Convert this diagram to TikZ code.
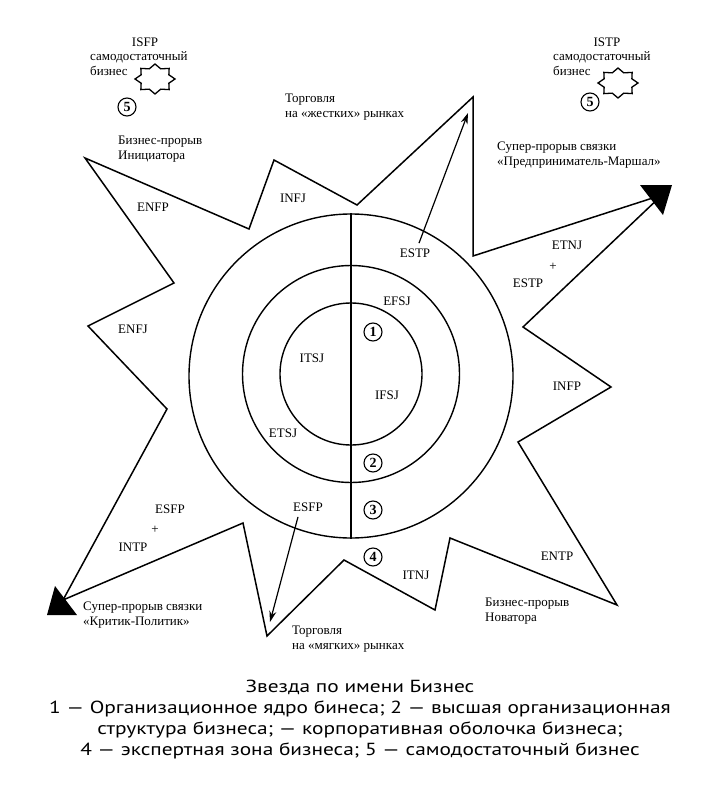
\documentclass[tikz,border=0pt]{standalone}
\usepackage{fontspec}
\setmainfont{Liberation Serif}
\newfontfamily\capfont[FakeStretch=1.22]{PT Sans}
\usetikzlibrary{positioning,arrows.meta}

\begin{document}
\begin{tikzpicture}[x=1pt, y=-1pt, font=\fontsize{13}{15}\selectfont, % pixel grid, y downwards
    outline/.style={line width=1.5pt, line join=miter},
    ring/.style={draw, circle, line width=1.4pt, inner sep=0pt},
    num/.style={draw, circle, line width=1.1pt, minimum size=18pt, inner sep=0pt, font=\fontsize{14}{14}\selectfont\bfseries},
    note/.style={align=left, anchor=north west, inner sep=0pt},
    pointer/.style={-{Stealth[length=11pt, width=7pt]}, line width=1.2pt}]
    \useasboundingbox (0,0) rectangle (720,800);
    % Draw rings
    \node[ring, minimum size=324pt] (shell) at (351,376) {};
    \node[ring, minimum size=217pt] (top) at (351,374) {};
    \node[ring, minimum size=142pt] (core) at (351,374) {};
    \draw[line width=1.5pt] (shell.north) -- (shell.south); % divider
    % Draw star outline
    \draw[outline] (85,158) -- (249,229) -- (274,160) -- (357,205) -- (473,97) -- (473,256)
        -- (662,195) -- (523,327) -- (611,387) -- (518,442) -- (617,605) -- (450,538)
        -- (435,610) -- (344,560) -- (267,636) -- (243,523) -- (63,600) -- (167,409)
        -- (88,326) -- (174,283) -- cycle;
    % Draw super-breakthrough heads
    \fill (640,185) -- (672,185) -- (663,215) -- cycle;
    \fill (47,615) -- (55,586) -- (77,615) -- cycle;
    % Draw small stars
    \foreach \cx/\cy in {155/79, 618/83}
        \draw[line width=1.3pt, shift={(\cx,\cy)}] (0:20 and 15)
            \foreach \k in {0,...,7} { -- ({\k*45+22.5}:15 and 11) -- ({\k*45+45}:20 and 15) } -- cycle;

    % Labels in the rings
    \node (itsj) at (312,358) {ITSJ};
    \node (ifsj) at (387,395) {IFSJ};
    \node (efsj) at (397,301) {EFSJ};
    \node (etsj) at (283,433) {ETSJ};
    \node (estpin) at (415,253) {ESTP};
    \node (esfpin) at (308,507) {ESFP};
    \node[num] (n1) at (373,332) {1};
    \node[num] (n2) at (373,463) {2};
    \node[num] (n3) at (373,510) {3};
    \node[num] (n4) at (373,557) {4};
    % Labels in the rays
    \node (enfp) at (153,207) {ENFP};
    \node (infj) at (293,198) {INFJ};
    \node (enfj) at (133,329) {ENFJ};
    \node (infp) at (567,386) {INFP};
    \node (entp) at (557,556) {ENTP};
    \node (itnj) at (416,575) {ITNJ};
    \node (etnj) at (567,245) {ETNJ};
    \node (plusr) at (553,267) {+};
    \node (estp) at (528,283) {ESTP};
    \node (esfp) at (170,509) {ESFP};
    \node (plusl) at (155,530) {+};
    \node (intp) at (133,547) {INTP};
    % Self-sufficient business
    \node (isfp) at (145,42) {ISFP};
    \node[note] (isfpbiz) at (90,51) {самодостаточный\\бизнес};
    \node[num] (n5l) at (127,107) {5};
    \node (istp) at (607,42) {ISTP};
    \node[note] (istpbiz) at (553,51) {самодостаточный\\бизнес};
    \node[num] (n5r) at (590,102) {5};
    % Notes round the star
    \node[note] (hard) at (285,94) {Торговля\\на «жестких» рынках};
    \node[note] (soft) at (292,626) {Торговля\\на «мягких» рынках};
    \node[note] (initiator) at (118,136) {Бизнес-прорыв\\Инициатора};
    \node[note] (innovator) at (485,598) {Бизнес-прорыв\\Новатора};
    \node[note] (marshal) at (497,142) {Супер-прорыв связки\\«Предприниматель-Маршал»};
    \node[note] (critic) at (83,602) {Супер-прорыв связки\\«Критик-Политик»};
    % Draw trade arrows
    \coordinate (hardtip) at (468,113);
    \coordinate (softtip) at (270,622);
    \draw[pointer] (estpin.north) ++(4,-2) -- (hardtip);
    \draw[pointer] (esfpin.south) ++(-10,2) -- (softtip);

    % Caption
    \node[font=\capfont\fontsize{17.5}{21}\selectfont, align=center, anchor=north] (caption) at (360,676)
        {Звезда по имени Бизнес\\
         1 — Организационное ядро бинеса; 2 — высшая организационная\\
         структура бизнеса; — корпоративная оболочка бизнеса;\\
         4 — экспертная зона бизнеса; 5 — самодостаточный бизнес};
\end{tikzpicture}
\end{document}
